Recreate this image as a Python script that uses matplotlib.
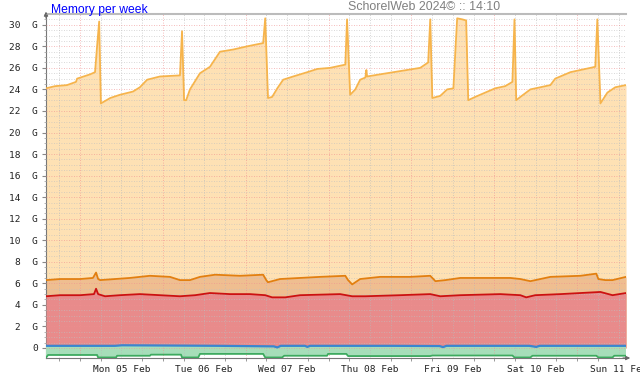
import matplotlib
matplotlib.use("Agg")
import matplotlib.pyplot as plt
import numpy as np

# ---- data (hours since Sun 04 Feb 14:10, values in GB) ----
top_t = [0, 2.6, 6.1, 8.7, 9.0, 12.8, 14.2, 14.8, 15.4, 15.9, 18.6, 21.4, 25.2, 27.2,
         29.3, 33.0, 38.8, 39.4, 40.0, 40.6, 41.7, 44.6, 47.5, 50.4, 54.2, 58.3, 62.9,
         63.5, 64.3, 65.5, 67.0, 68.7, 71.6, 75.7, 78.6, 82.3, 86.7, 87.2, 88.1, 89.6,
         91.0, 92.5, 92.8, 93.0, 96.8, 102.6, 108.4, 110.7, 111.3, 111.9, 114.2, 116.2,
         118.0, 118.6, 119.1, 120.6, 121.7, 122.3, 124.3, 127.2, 130.1, 133.0, 135.1,
         135.7, 136.2, 137.4, 140.3, 143.2, 146.1, 147.5, 151.9, 154.8, 157.7, 159.1,
         159.7, 160.6, 162.6, 164.9, 168.0]
top_v = [24.1, 24.3, 24.4, 24.7, 25.0, 25.4, 25.6, 28.0, 30.3, 22.7, 23.2, 23.5, 23.8, 24.2,
         24.9, 25.2, 25.3, 29.4, 23.0, 23.0, 24.0, 25.5, 26.1, 27.5, 27.7, 28.0, 28.3,
         30.6, 23.2, 23.3, 24.1, 24.9, 25.2, 25.6, 25.9, 26.0, 26.3, 30.5, 23.5, 24.0,
         24.9, 25.1, 25.8, 25.2, 25.4, 25.7, 26.0, 26.5, 30.5, 23.2, 23.4, 24.0,
         24.1, 27.7, 30.6, 30.5, 30.4, 23.0, 23.3, 23.7, 24.1, 24.3, 24.7,
         30.5, 23.0, 23.3, 24.0, 24.2, 24.4, 25.0, 25.6, 25.8, 26.0, 26.1,
         30.5, 22.7, 23.7, 24.2, 24.4]

orange_t = [0, 4.1, 9.9, 13.6, 14.5, 15.1, 15.7, 20.0, 24.3, 30.1, 35.9, 38.8, 41.7, 44.6,
            49.0, 56.2, 62.9, 63.8, 64.3, 67.8, 73.6, 79.4, 86.7, 87.5, 88.7, 91.0, 96.8,
            105.5, 111.3, 112.8, 115.7, 120.0, 125.8, 134.5, 137.4, 140.3, 143.2, 146.1,
            154.8, 159.4, 160.0, 162.0, 164.1, 168.0]
orange_v = [6.3, 6.4, 6.4, 6.5, 7.0, 6.4, 6.3, 6.4, 6.5, 6.7, 6.6, 6.3, 6.3, 6.6,
            6.8, 6.7, 6.8, 6.3, 6.1, 6.4, 6.5, 6.6, 6.7, 6.3, 5.9, 6.4, 6.6,
            6.6, 6.7, 6.2, 6.3, 6.5, 6.5, 6.5, 6.4, 6.2, 6.4, 6.6,
            6.7, 6.9, 6.4, 6.3, 6.3, 6.6]

red_t = [0, 4.1, 9.9, 13.9, 14.5, 15.1, 17.1, 21.4, 27.2, 33.0, 38.8, 43.2, 47.5, 53.3,
         59.1, 63.5, 65.5, 69.3, 73.6, 85.2, 88.7, 92.5, 102.6, 111.3, 114.2, 120.0,
         131.6, 137.4, 139.1, 141.7, 149.0, 160.6, 164.1, 168.0]
red_v = [4.8, 4.9, 4.9, 5.0, 5.5, 5.0, 4.8, 4.9, 5.0, 4.9, 4.8, 4.9, 5.1, 5.0,
         5.0, 4.9, 4.7, 4.7, 4.9, 5.0, 4.8, 4.8, 4.9, 5.0, 4.8, 4.9,
         5.0, 4.9, 4.7, 4.9, 5.0, 5.2, 4.9, 5.1]

blue_t = [0, 20, 22, 50, 66, 67, 68, 75, 75.7, 76.5, 100, 114, 115, 116, 140, 142, 143, 168]
blue_v = [0.2, 0.2, 0.25, 0.2, 0.15, 0.05, 0.2, 0.2, 0.1, 0.2, 0.2, 0.18, 0.08, 0.2,
          0.2, 0.1, 0.2, 0.2]

green_t = [0, 0.6, 14.8, 15.1, 20.3, 20.6, 30.1, 30.4, 39.1, 39.4, 44.1, 44.6, 62.9, 63.5,
           68.4, 69.0, 81.4, 81.7, 87.0, 87.5, 111.3, 111.9, 135.1, 135.7, 140.3, 140.9,
           159.4, 160.0, 164.1, 164.6, 168.0]
green_v = [-0.9, -0.65, -0.65, -0.88, -0.88, -0.72, -0.72, -0.62, -0.62, -0.88, -0.88,
           -0.55, -0.55, -0.88, -0.88, -0.72, -0.72, -0.55, -0.55, -0.75, -0.75, -0.7,
           -0.7, -0.88, -0.88, -0.72, -0.72, -0.88, -0.88, -0.72, -0.72]

day_labels = ["Mon 05 Feb", "Tue 06 Feb", "Wed 07 Feb", "Thu 08 Feb",
              "Fri 09 Feb", "Sat 10 Feb", "Sun 11 Feb"]
first_midnight = 9 + 50 / 60.0   # hours from start to Mon 05 Feb 00:00
y_ticks = list(range(0, 31, 2))
y_labels = ["0"] + [f"{v}  G" for v in y_ticks[1:]]

# ---- figure ----
fig = plt.figure(figsize=(6.4, 3.8), dpi=100)
ax = fig.add_axes([46 / 640, (380 - 358) / 380, (626 - 46) / 640, (358 - 14) / 380])
ax.set_xlim(0, 168)
ax.set_ylim(-0.93, 31.0)

c_peach = "#FEE1B4"
c_top = "#F6B44C"
c_orfill = "#EFBE90"
c_orline = "#E27F10"
c_redfill = "#E88B8B"
c_redline = "#CC1111"
c_blue = "#3A86D0"
c_greenfill = "#A6DEB9"
c_greenline = "#3DAA5F"

ax.fill_between(top_t, 0, top_v, color=c_peach, lw=0, zorder=1)
ax.fill_between(orange_t, 0, orange_v, color=c_orfill, lw=0, zorder=2)
ax.fill_between(red_t, 0, red_v, color=c_redfill, lw=0, zorder=3)
ax.fill(np.r_[green_t, blue_t[::-1]], np.r_[green_v, blue_v[::-1]],
        color=c_greenfill, lw=0, zorder=4)

# grid on top of areas
for h in np.arange(first_midnight - 24 + 6, 168, 6):
    if h <= 0:
        continue
    is_major = abs(((h - first_midnight) % 24)) < 1e-6
    ax.axvline(h, color="#F09090" if is_major else "#B8B8B8",
               lw=0.6, ls=(0, (1, 2)), alpha=0.8, zorder=5)
for v in np.arange(0, 31.01, 0.5):
    is_major = abs(v % 2) < 1e-6
    ax.axhline(v, color="#F09090" if is_major else "#C0C0C0",
               lw=0.6, ls=(0, (1, 2)), alpha=0.8, zorder=5)

ax.plot(top_t, top_v, color=c_top, lw=1.3, zorder=6)
ax.plot(orange_t, orange_v, color=c_orline, lw=1.3, zorder=6)
ax.plot(red_t, red_v, color=c_redline, lw=1.3, zorder=6)
ax.plot(blue_t, blue_v, color=c_blue, lw=1.6, zorder=6)
ax.plot(green_t, green_v, color=c_greenline, lw=1.3, zorder=6)

# ticks & labels
mono = "DejaVu Sans Mono"
ax.set_yticks(y_ticks)
ax.set_yticklabels(y_labels, fontfamily=mono, fontsize=6.8, color="#222222")
ax.set_yticks(np.arange(0, 31.01, 0.5), minor=True)
noons = [first_midnight + 12 + 24 * i for i in range(len(day_labels))]
ax.set_xticks(noons)
ax.set_xticklabels(day_labels, fontfamily=mono, fontsize=6.8, color="#222222")
ax.set_xticks([h for h in np.arange(first_midnight - 24 + 6, 168, 6) if h > 0], minor=True)
ax.tick_params(axis="x", which="major", length=0, pad=5)
ax.tick_params(axis="x", which="minor", length=2, color="#888888", direction="out")
ax.tick_params(axis="y", which="major", length=3, color="#888888", pad=3)
ax.tick_params(axis="y", which="minor", length=1.5, color="#AAAAAA")

ax.spines["right"].set_visible(False)
ax.spines["top"].set_color("#BBBBBB")
ax.spines["top"].set_linewidth(1.5)
ax.spines["left"].set_color("#777777")
ax.spines["bottom"].set_color("#777777")
ax.spines["left"].set_linewidth(0.8)
ax.spines["bottom"].set_linewidth(0.8)

# axis arrows
ax.annotate("", xy=(0, 1.015), xytext=(0, 0.98), xycoords="axes fraction",
            arrowprops=dict(arrowstyle="-|>", color="#666666", lw=0.8,
                            mutation_scale=6), annotation_clip=False)
ax.annotate("", xy=(1.012, 0), xytext=(0.99, 0), xycoords="axes fraction",
            arrowprops=dict(arrowstyle="-|>", color="#666666", lw=0.8,
                            mutation_scale=6), annotation_clip=False)

fig.text(51 / 640, 1 - 13 / 380, "Memory per week", color="#0000FF",
         fontfamily="Liberation Sans", fontsize=8.7, ha="left", va="baseline")
fig.text(348 / 640, 1 - 10 / 380, "SchorelWeb 2024© :: 14:10", color="#808080",
         fontfamily="Liberation Sans", fontsize=8.9, ha="left", va="baseline")

fig.savefig("out.png", dpi=100)
